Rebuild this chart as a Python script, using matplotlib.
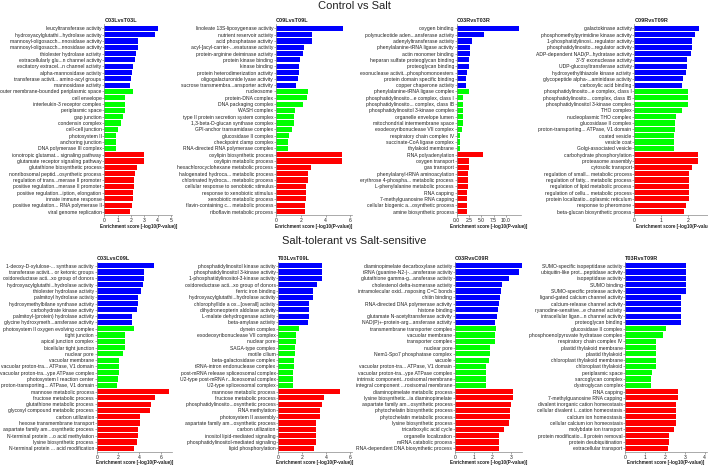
import matplotlib
matplotlib.use("Agg")
import matplotlib.pyplot as plt

plt.rcParams['font.family'] = ['Liberation Sans', 'DejaVu Sans']

# ---------------- data ----------------
p1_title = "C03LvsT03L"
p1_labels = ["leucyltransferase activity", "hydroxyacylglutathi...hydrolase activity",
             "mannosyl-oligosacch...nnosidase activity", "mannosyl-oligosacch...nnosidase activity",
             "thiolester hydrolase activity", "extracellularly glu...n channel activity",
             "excitatory extracel...n channel activity", "alpha-mannosidase activity",
             "transferase activit... amino-acyl groups", "mannosidase activity",
             "outer membrane-bounded periplasmic space", "cell envelope",
             "interleukin-3 receptor complex", "periplasmic space", "gap junction",
             "condensin complex", "cell-cell junction", "photosystem II", "anchoring junction",
             "DNA polymerase III complex",
             "ionotropic glutamat... signaling pathway", "glutamate receptor signaling pathway",
             "glutathione biosynthetic process", "nonribosomal peptid...osynthetic process",
             "regulation of trans...merase II promoter", "positive regulation...merase II promoter",
             "positive regulation...iption, elongation", "innate immune response",
             "positive regulation... RNA polymerase II", "viral genome replication"]
p1_values = [4.0, 3.8, 2.55, 2.55, 2.38, 2.28, 2.18, 2.08, 2.03, 1.93,
             2.15, 1.55, 1.55, 1.55, 1.38, 1.28, 1.05, 0.88, 0.88, 0.88,
             2.98, 2.98, 2.43, 2.3, 2.23, 2.23, 2.18, 2.13, 2.05, 1.9]

p2_title = "C09LvsT09L"
p2_labels = ["linoleate 13S-lipoxygenase activity", "nutrient reservoir activity",
             "acid phosphatase activity", "acyl-[acyl-carrier-...esaturase activity",
             "protein-arginine deiminase activity", "protein kinase binding", "kinase binding",
             "protein heterodimerization activity", "oligogalacturonide lyase activity",
             "sucrose transmembra...ansporter activity",
             "nucleosome", "protein-DNA complex", "DNA packaging complex", "WASH complex",
             "type II protein secretion system complex", "1,3-beta-D-glucan synthase complex",
             "GPI-anchor transamidase complex", "glucosidase II complex",
             "checkpoint clamp complex", "RNA-directed RNA polymerase complex",
             "oxylipin biosynthetic process", "oxylipin metabolic process",
             "hexachlorocyclohexane metabolic process", "halogenated hydroca... metabolic process",
             "chlorinated hydroca... metabolic process", "cellular response to xenobiotic stimulus",
             "response to xenobiotic stimulus", "xenobiotic metabolic process",
             "flavin-containing c... metabolic process", "riboflavin metabolic process"]
p2_values = [5.43, 2.9, 2.9, 2.28, 2.15, 1.96, 1.85, 1.83, 1.77, 1.59,
             2.55, 2.5, 2.2, 1.53, 1.45, 1.42, 1.32, 1.05, 0.94, 0.94,
             5.3, 5.3, 2.82, 2.6, 2.6, 2.42, 2.42, 2.42, 2.34, 2.34]

p3_title = "C03RvsT03R"
p3_labels = ["oxygen binding", "polynucleotide aden...ansferase activity",
             "adenylyltransferase activity", "phenylalanine-tRNA ligase activity",
             "actin monomer binding", "heparan sulfate proteoglycan binding",
             "proteoglycan binding", "exonuclease activit...phosphomonoesters",
             "protein domain specific binding", "copper chaperone activity",
             "phenylalanine-tRNA ligase complex", "phosphatidylinosito...e complex, class I",
             "phosphatidylinosito... complex, class IB", "phosphatidylinositol 3-kinase complex",
             "organelle envelope lumen", "mitochondrial intermembrane space",
             "exodeoxyribonuclease VII complex", "respiratory chain complex IV",
             "succinate-CoA ligase complex", "thylakoid membrane",
             "RNA polyadenylation", "oxygen transport", "gas transport",
             "phenylalanyl-tRNA aminoacylation", "erythrose 4-phospha... metabolic process",
             "L-phenylalanine metabolic process", "RNA capping", "7-methylguanosine RNA capping",
             "cellular biogenic a...osynthetic process", "amine biosynthetic process"]
p3_values = [12.6, 5.6, 3.2, 2.7, 2.7, 2.57, 2.57, 2.1, 1.82, 1.82,
             2.5, 1.35, 1.35, 1.35, 1.28, 1.35, 1.15, 0.74, 0.74, 0.74,
             5.4, 2.57, 2.57, 2.3, 2.3, 2.3, 2.03, 2.03, 2.03, 2.03]

p4_title = "C09RvsT09R"
p4_labels = ["galactokinase activity", "phosphomethylpyrimidine kinase activity",
             "1-phosphatidylinosi...regulator activity", "phosphatidylinosito...regulator activity",
             "ADP-dependent NAD(P...hydratase activity", "3'-5' exonuclease activity",
             "UDP-glucosyltransferase activity", "hydroxyethylthiazole kinase activity",
             "glycopeptide alpha-...aminidase activity", "carboxylic acid binding",
             "phosphatidylinosito...e complex, class I", "phosphatidylinosito... complex, class IB",
             "phosphatidylinositol 3-kinase complex", "THO complex", "nucleoplasmic THO complex",
             "glucosidase II complex", "proton-transporting... ATPase, V1 domain",
             "coated vesicle", "vesicle coat", "Golgi-associated vesicle",
             "carbohydrate phosphorylation", "proteasome assembly", "cytosolic transport",
             "regulation of small... metabolic process", "regulation of fatty... metabolic process",
             "regulation of lipid metabolic process", "regulation of cellu... metabolic process",
             "protein localizatio...oplasmic reticulum", "response to pheromone",
             "beta-glucan biosynthetic process"]
p4_values = [2.43, 2.28, 2.15, 2.15, 2.13, 1.98, 1.96, 1.94, 1.81, 1.79,
             2.01, 2.01, 2.01, 1.78, 1.55, 1.53, 1.53, 1.5, 1.5, 1.5,
             2.4, 2.4, 2.15, 2.05, 2.05, 2.05, 2.05, 2.04, 1.94, 1.88]

p5_title = "C03LvsC09L"
p5_labels = ["1-deoxy-D-xylulose-... synthase activity", "transferase activit... or ketonic groups",
             "oxidoreductase acti...xo group of donors", "hydroxyacylglutathi...hydrolase activity",
             "thiolester hydrolase activity", "palmitoyl hydrolase activity",
             "hydroxymethylbilane synthase activity", "carbohydrate kinase activity",
             "palmitoyl-(protein) hydrolase activity", "glycine hydroxymeth...ansferase activity",
             "photosystem II oxygen evolving complex", "tight junction", "apical junction complex",
             "bicellular tight junction", "nuclear pore", "vacuolar membrane",
             "vacuolar proton-tra... ATPase, V1 domain", "vacuolar proton-tra...ype ATPase complex",
             "photosystem I reaction center", "proton-transporting... ATPase, V1 domain",
             "mannose metabolic process", "fructose metabolic process",
             "glutathione metabolic process", "glycosyl compound metabolic process",
             "carbon utilization", "hexose transmembrane transport",
             "aspartate family am...osynthetic process", "N-terminal protein ...o acid methylation",
             "lysine biosynthetic process", "N-terminal protein ... acid modification"]
p5_values = [5.38, 4.47, 4.44, 4.31, 4.16, 3.9, 3.9, 3.78, 3.31, 3.31,
             3.5, 2.66, 2.66, 2.66, 2.44, 2.13, 2.13, 2.09, 1.97, 1.88,
             6.78, 5.47, 5.06, 5.03, 4.03, 4.03, 3.9, 3.84, 3.78, 3.47]

p6_title = "T03LvsT09L"
p6_labels = ["phosphatidylinositol kinase activity", "phosphatidylinositol 3-kinase activity",
             "1-phosphatidylinositol-3-kinase activity", "oxidoreductase acti...xo group of donors",
             "ferric iron binding", "hydroxyacylglutathi...hydrolase activity",
             "chlorophyllide a ox...[overall] activity", "dihydroneopterin aldolase activity",
             "L-malate dehydrogenase activity", "beta-amylase activity",
             "dynein complex", "exodeoxyribonuclease VII complex", "nuclear pore",
             "SAGA-type complex", "motile cilium", "beta-galactosidase complex",
             "tRNA-intron endonuclease complex", "post-mRNA release spliceosomal complex",
             "U2-type post-mRNA r...liceosomal complex", "U2-type spliceosomal complex",
             "mannose metabolic process", "fructose metabolic process",
             "phosphatidylinosito...osynthetic process", "RNA methylation",
             "photosystem II assembly", "aspartate family am...osynthetic process",
             "carbon utilization", "inositol lipid-mediated signaling",
             "phosphatidylinositol-mediated signaling", "lipid phosphorylation"]
p6_values = [3.67, 3.67, 3.67, 3.19, 2.86, 2.86, 2.58, 2.58, 2.53, 2.5,
             1.72, 1.47, 1.47, 1.36, 1.36, 1.31, 1.31, 1.25, 1.25, 1.25,
             5.17, 3.78, 3.64, 3.44, 3.44, 3.17, 3.17, 3.11, 3.11, 2.97]

p7_title = "C03RvsC09R"
p7_labels = ["diaminopimelate decarboxylase activity", "tRNA (guanine-N2-)-...ansferase activity",
             "glutathione gamma-g...ansferase activity", "cholestenol delta-isomerase activity",
             "intramolecular oxid...nsposing C=C bonds", "chitin binding",
             "RNA-directed DNA polymerase activity", "histone binding",
             "glutamate N-acetyltransferase activity", "NAD(P)+-protein-arg...ansferase activity",
             "transmembrane transporter complex", "vacuolar membrane", "transporter complex",
             "nuclear pore", "Nem1-Spo7 phosphatase complex", "vacuole",
             "vacuolar proton-tra... ATPase, V1 domain", "vacuolar proton-tra...ype ATPase complex",
             "intrinsic component...roxisomal membrane", "integral component ...roxisomal membrane",
             "diaminopimelate metabolic process", "lysine biosynthetic...ia diaminopimelate",
             "aspartate family am...osynthetic process", "phytochelatin biosynthetic process",
             "phytochelatin metabolic process", "lysine biosynthetic process",
             "tricarboxylic acid cycle", "organelle localization", "mRNA catabolic process",
             "RNA-dependent DNA biosynthetic process"]
p7_values = [3.6, 3.45, 2.93, 2.51, 2.46, 2.42, 2.35, 2.32, 2.24, 2.17,
             2.19, 2.14, 2.14, 1.9, 1.87, 1.85, 1.67, 1.67, 1.67, 1.67,
             3.1, 3.1, 3.02, 2.94, 2.94, 2.89, 2.64, 2.39, 2.39, 2.39]

p8_title = "T03RvsT09R"
p8_labels = ["SUMO-specific isopeptidase activity", "ubiquitin-like prot...peptidase activity",
             "isopeptidase activity", "SUMO binding", "SUMO-specific protease activity",
             "ligand-gated calcium channel activity", "calcium-release channel activity",
             "ryanodine-sensitive...e channel activity", "intracellular ligan...n channel activity",
             "proteoglycan binding",
             "glucosidase II complex", "phosphoenolpyruvate hydratase complex",
             "respiratory chain complex IV", "plastid thylakoid membrane", "plastid thylakoid",
             "chloroplast thylakoid membrane", "chloroplast thylakoid", "periplasmic space",
             "sarcoglycan complex", "dystroglycan complex",
             "RNA capping", "7-methylguanosine RNA capping",
             "divalent inorganic cation homeostasis", "cellular divalent i...cation homeostasis",
             "calcium ion homeostasis", "cellular calcium ion homeostasis",
             "molybdate ion transport", "protein modificatio...ll protein removal",
             "protein deubiquitination", "extracellular transport"]
p8_values = [3.04, 3.04, 3.04, 3.04, 3.04, 2.82, 2.82, 2.82, 2.82, 2.81,
             2.03, 1.92, 1.53, 1.53, 1.53, 1.53, 1.53, 1.34, 1.28, 1.28,
             2.66, 2.66, 2.57, 2.57, 2.57, 2.57, 2.44, 2.22, 2.22, 2.13]

group_colors = ["#0000FF", "#00FF00", "#FF0000"]   # MF, CC, BP
section_titles = ["Control vs Salt", "Salt-tolerant vs Salt-sensitive"]
xlabel = "Enrichment score [-log10(P-value)]"

# ---------------- layout ----------------
W, H = 708, 466
fig = plt.figure(figsize=(W / 100, H / 100), dpi=100)

def add_px_axes(x0, x1, ytop, ybot):
    return fig.add_axes([x0 / W, 1 - ybot / H, (x1 - x0) / W, (ybot - ytop) / H])

fs = 3.6
panels = [
    # title, labels, values, x0px, px_per_unit, xmax, ticks, ticklabels, row
    (p1_title, p1_labels, p1_values, 104.3, 13.33, 5.1, [0, 1, 2, 3, 4, 5], None, 0),
    (p2_title, p2_labels, p2_values, 276.0, 12.4, 6.1, [0, 2, 4, 6], None, 0),
    (p3_title, p3_labels, p3_values, 456.7, 4.93, 13.0, [0, 2.5, 5, 7.5, 10],
     ["0.0", "2.5", "5.0", "7.5", "10.0"], 0),
    (p4_title, p4_labels, p4_values, 634.3, 26.7, 3.05, [0, 1, 2, 3], None, 0),
    (p5_title, p5_labels, p5_values, 96.7, 10.67, 7.1, [0, 2, 4, 6], None, 1),
    (p6_title, p6_labels, p6_values, 278.3, 12.0, 6.1, [0, 2, 4, 6], None, 1),
    (p7_title, p7_labels, p7_values, 455.0, 18.57, 3.6, [0, 1, 2, 3], None, 1),
    (p8_title, p8_labels, p8_values, 625.3, 19.83, 4.1, [0, 1, 2, 3, 4], None, 1),
]
rows_y = [(24.5, 215.3), (262.0, 452.0)]

for title, labels, values, x0, ppu, xmax, ticks, tlabels, row in panels:
    ytop, ybot = rows_y[row]
    ax = add_px_axes(x0, x0 + xmax * ppu, ytop, ybot)
    n = len(values)
    cols = [group_colors[i // 10] for i in range(n)]
    ax.barh(range(n), values, height=0.82, color=cols, edgecolor='none')
    ax.set_ylim(n - 0.4, -0.6)
    ax.set_xlim(0, xmax)
    ax.set_yticks(range(n))
    ax.set_yticklabels(labels, fontsize=fs, color='#222222')
    ax.set_xticks(ticks)
    if tlabels:
        ax.set_xticklabels(tlabels)
    ax.tick_params(axis='x', labelsize=fs, length=1.3, width=0.4, pad=0.6, color='#666666',
                   labelcolor='#222222')
    ax.tick_params(axis='y', length=1.2, width=0.4, pad=0.8, color='#666666')
    for s in ['top', 'right']:
        ax.spines[s].set_visible(False)
    for s in ['left', 'bottom']:
        ax.spines[s].set_color('#888888')
        ax.spines[s].set_linewidth(0.5)
    ax.set_xlabel(xlabel, fontsize=3.3, fontweight='bold', labelpad=0.6, color='#222222')
    ax.set_title(title, loc='left', fontsize=4.0, fontweight='bold', pad=1.5, color='#222222')

fig.text(0.5, 1 - 6 / H, section_titles[0], ha='center', va='center', fontsize=8, color='#222222')
fig.text(0.5, 1 - 241 / H, section_titles[1], ha='center', va='center', fontsize=8, color='#222222')

fig.savefig("out.png", dpi=100)
